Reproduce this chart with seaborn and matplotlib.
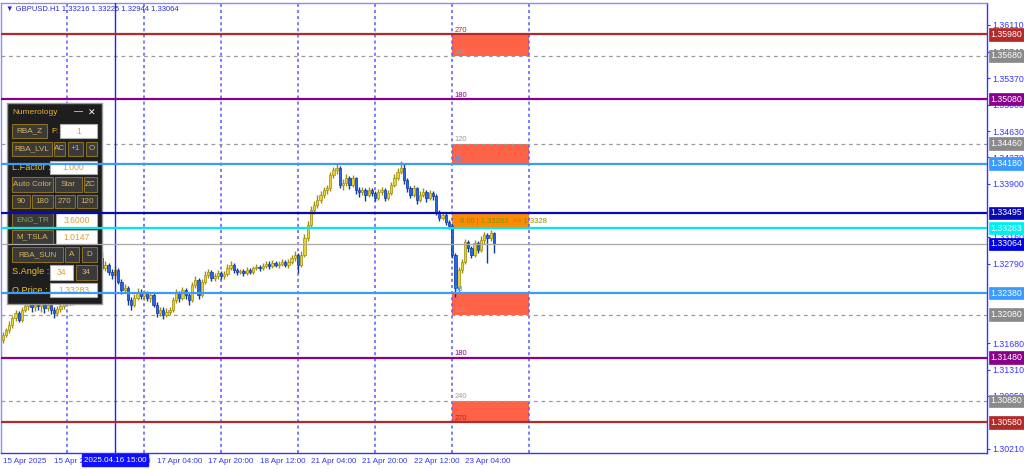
import matplotlib
matplotlib.use("Agg")
import matplotlib.pyplot as plt
import matplotlib.patches as mpatches
import matplotlib.transforms as mtransforms
import seaborn as sns
import pandas as pd

# GBPUSD H1 bars, 15 Apr 04:00 .. 23 Apr 13:00 (x = bar number)
first_open = 1.3173
closes = [
    1.3180, 1.3187, 1.3194, 1.3203, 1.3210, 1.3201, 1.3215, 1.3220, 1.3223, 1.3219,
    1.3222, 1.3220, 1.3223, 1.3217, 1.3222, 1.3215, 1.3210, 1.3216, 1.3220, 1.3224,
    1.3228, 1.3226, 1.3231, 1.3235, 1.3242, 1.3249, 1.3256, 1.3263, 1.3273, 1.3281,
    1.3287, 1.3273, 1.3277, 1.3267, 1.3263, 1.3270, 1.3254, 1.3242, 1.3245, 1.3228,
    1.3222, 1.3231, 1.3240, 1.3234, 1.3238, 1.3231, 1.3235, 1.3222, 1.3210, 1.3215,
    1.3208, 1.3212, 1.3215, 1.3228, 1.3238, 1.3231, 1.3242, 1.3235, 1.3228, 1.3249,
    1.3256, 1.3235, 1.3254, 1.3263, 1.3267, 1.3259, 1.3262, 1.3266, 1.3262, 1.3265,
    1.3273, 1.3277, 1.3270, 1.3267, 1.3269, 1.3266, 1.3270, 1.3267, 1.3273, 1.3274,
    1.3273, 1.3276, 1.3279, 1.3276, 1.3280, 1.3277, 1.3279, 1.3281, 1.3277, 1.3281,
    1.3287, 1.3291, 1.3277, 1.3291, 1.3315, 1.3333, 1.3354, 1.3361, 1.3368, 1.3375,
    1.3381, 1.3384, 1.3402, 1.3409, 1.3412, 1.3388, 1.3391, 1.3398, 1.3388, 1.3398,
    1.3381, 1.3379, 1.3381, 1.3375, 1.3381, 1.3377, 1.3370, 1.3379, 1.3381, 1.3370,
    1.3377, 1.3388, 1.3398, 1.3407, 1.3412, 1.3395, 1.3384, 1.3375, 1.3384, 1.3368,
    1.3375, 1.3379, 1.3370, 1.3377, 1.3373, 1.3351, 1.3342, 1.3347, 1.3337, 1.3331,
    1.3291, 1.3245, 1.3270, 1.3281, 1.3309, 1.3300, 1.3291, 1.3308, 1.3298, 1.3312,
    1.3319, 1.3315, 1.33216, 1.33064,
]
highs = [
    1.3184, 1.3190, 1.3199, 1.3206, 1.3214, 1.3213, 1.3219, 1.3226, 1.3228, 1.3227,
    1.3226, 1.3227, 1.3229, 1.3226, 1.3227, 1.3224, 1.3218, 1.3220, 1.3225, 1.3229,
    1.3233, 1.3232, 1.3236, 1.3240, 1.3246, 1.3253, 1.3260, 1.3268, 1.3278, 1.3286,
    1.3293, 1.3295, 1.3283, 1.3280, 1.3272, 1.3275, 1.3273, 1.3257, 1.3250, 1.3248,
    1.3233, 1.3236, 1.3245, 1.3244, 1.3242, 1.3241, 1.3239, 1.3238, 1.3225, 1.3219,
    1.3218, 1.3217, 1.3219, 1.3232, 1.3243, 1.3241, 1.3247, 1.3245, 1.3238, 1.3253,
    1.3262, 1.3259, 1.3258, 1.3268, 1.3272, 1.3270, 1.3266, 1.3270, 1.3269, 1.3269,
    1.3278, 1.3282, 1.3280, 1.3273, 1.3272, 1.3272, 1.3274, 1.3273, 1.3276, 1.3278,
    1.3277, 1.3280, 1.3283, 1.3282, 1.3284, 1.3283, 1.3282, 1.3285, 1.3284, 1.3285,
    1.3291, 1.3296, 1.3294, 1.3296, 1.3320, 1.3338, 1.3359, 1.3366, 1.3374, 1.3380,
    1.3386, 1.3389, 1.3407, 1.3414, 1.3419, 1.3415, 1.3396, 1.3403, 1.3401, 1.3402,
    1.3400, 1.3385, 1.3386, 1.3384, 1.3385, 1.3384, 1.3380, 1.3383, 1.3385, 1.3384,
    1.3382, 1.3392, 1.3403, 1.3412, 1.3422, 1.3417, 1.3398, 1.3387, 1.3389, 1.3386,
    1.3380, 1.3384, 1.3382, 1.3382, 1.3380, 1.3376, 1.3354, 1.3351, 1.3349, 1.3340,
    1.3334, 1.3294, 1.3274, 1.3286, 1.3313, 1.3312, 1.3304, 1.3312, 1.3311, 1.3317,
    1.3323, 1.3322, 1.3326, 1.33225,
]
lows = [
    1.3168, 1.3177, 1.3183, 1.3190, 1.3199, 1.3197, 1.3198, 1.3211, 1.3214, 1.3212,
    1.3213, 1.3215, 1.3211, 1.3210, 1.3213, 1.3209, 1.3203, 1.3206, 1.3212, 1.3216,
    1.3220, 1.3221, 1.3222, 1.3227, 1.3231, 1.3238, 1.3245, 1.3252, 1.3259, 1.3269,
    1.3277, 1.3270, 1.3268, 1.3263, 1.3258, 1.3259, 1.3250, 1.3237, 1.3238, 1.3222,
    1.3215, 1.3218, 1.3228, 1.3230, 1.3229, 1.3227, 1.3226, 1.3218, 1.3205, 1.3206,
    1.3202, 1.3204, 1.3207, 1.3211, 1.3224, 1.3226, 1.3228, 1.3230, 1.3222, 1.3225,
    1.3245, 1.3230, 1.3232, 1.3251, 1.3259, 1.3255, 1.3255, 1.3258, 1.3257, 1.3258,
    1.3262, 1.3270, 1.3266, 1.3263, 1.3264, 1.3262, 1.3263, 1.3264, 1.3265, 1.3270,
    1.3269, 1.3270, 1.3273, 1.3272, 1.3273, 1.3274, 1.3273, 1.3276, 1.3274, 1.3273,
    1.3278, 1.3283, 1.3266, 1.3274, 1.3288, 1.3311, 1.3329, 1.3348, 1.3356, 1.3363,
    1.3370, 1.3376, 1.3380, 1.3398, 1.3403, 1.3384, 1.3382, 1.3387, 1.3383, 1.3385,
    1.3376, 1.3372, 1.3375, 1.3366, 1.3372, 1.3373, 1.3366, 1.3368, 1.3375, 1.3366,
    1.3367, 1.3374, 1.3385, 1.3395, 1.3403, 1.3390, 1.3379, 1.3370, 1.3372, 1.3362,
    1.3365, 1.3371, 1.3364, 1.3367, 1.3368, 1.3347, 1.3338, 1.3339, 1.3333, 1.3327,
    1.3287, 1.3233, 1.3240, 1.3266, 1.3278, 1.3295, 1.3287, 1.3288, 1.3294, 1.3295,
    1.3306, 1.3280, 1.3311, 1.32944,
]

x_ticks = [0, 16, 32, 48, 64, 80, 96, 112, 128, 144]
x_labels = ["15 Apr 2025", "15 Apr 20:00", "16 Apr 12:00", "17 Apr 04:00", "17 Apr 20:00",
            "18 Apr 12:00", "21 Apr 04:00", "21 Apr 20:00", "22 Apr 12:00", "23 Apr 04:00"]
# price scale ticks (the ones fully hidden under the level tags are left out)
y_ticks = [1.36110, 1.35740, 1.35370, 1.35000, 1.34630, 1.34270, 1.33900, 1.33160,
           1.32790, 1.31680, 1.31310, 1.30950, 1.30210]
day_breaks = [20, 44, 68, 92, 116, 140, 164]
cursor_bar = 35
cursor_label = "2025.04.16 15:00"

levels = [1.35980, 1.35680, 1.35080, 1.34460, 1.34180, 1.33495, 1.33283,
          1.33064, 1.32380, 1.32080, 1.31480, 1.30880, 1.30580]
level_colors = ["#b22a2a", "#9a9a9a", "#8b008b", "#9a9a9a", "#3a9bff", "#0a0ab4", "#00e8f0",
                "#a8a8a8", "#3a9bff", "#9a9a9a", "#8b008b", "#9a9a9a", "#b22a2a"]
label_colors = ["#b22a2a", "#8a8a8a", "#8b008b", "#8a8a8a", "#3a9bff", "#0a0ab4", "#00f0f0",
                "#0000e6", "#3a9bff", "#8a8a8a", "#8b008b", "#8a8a8a", "#b22a2a"]
level_dashed = [False, True, False, True, False, False, False,
                False, False, True, False, True, False]

zones = [(1.35680, 1.35980), (1.34180, 1.34460), (1.32080, 1.32380), (1.30580, 1.30880)]
zone_start, zone_end = 140, 164
signal_zone = (1.33283, 1.33495)
signal_text = "8.00 | 1.33283  >> 1.3328"
angle_names = ["270", "240", "180", "120", "90", "90", "120", "180", "240", "270"]
angle_levels = [1.35980, 1.35680, 1.35080, 1.34460, 1.34180,
                1.32380, 1.32080, 1.31480, 1.30880, 1.30580]
angle_colors = ["#a52a2a", "#9a9a9a", "#8b008b", "#9a9a9a", "#3a9bff",
                "#3a9bff", "#9a9a9a", "#8b008b", "#9a9a9a", "#a52a2a"]

title = "\u25bc GBPUSD.H1 1.33216 1.33225 1.32944 1.33064"

df = pd.DataFrame({"close": closes, "high": highs, "low": lows})
df["open"] = df["close"].shift(1).fillna(first_open)
df["bar"] = range(len(df))

sns.set_style("white")
plt.rcParams["font.family"] = ["Liberation Sans", "DejaVu Sans"]

W, H = 1024, 469
fig = plt.figure(figsize=(W / 100, H / 100), dpi=100)
ax = fig.add_axes([1 / W, 16 / H, 986 / W, 450 / H])
axis_blue = "#3535ff"

# candles
up = df[df["close"] >= df["open"]]
dn = df[df["close"] < df["open"]]
for part, body, edge in [(up, "#e8d430", "#a08e10"), (dn, "#2a66e0", "#0c3a9e")]:
    ax.vlines(part["bar"], part["low"], part["high"], color=edge, lw=1.0, zorder=2)
    h = (part["close"] - part["open"]).abs().clip(lower=0.00003)
    ax.bar(part["bar"], h, bottom=part[["open", "close"]].min(axis=1), width=0.72,
           color=body, edgecolor=edge, linewidth=0.5, zorder=2.1)

# day separators and cursor
for b in day_breaks:
    ax.axvline(b, color="#5a5aff", lw=1.1, ls=(0, (2, 2)), zorder=1.1)
ax.axvline(cursor_bar, color="#2020ff", lw=1, zorder=4)

# zones
for lo, hi in zones:
    ax.add_patch(mpatches.Rectangle((zone_start, lo), zone_end - zone_start, hi - lo,
                                    fc="#ff6347", ec="none", zorder=1))
ax.add_patch(mpatches.Rectangle((zone_start, signal_zone[0]), zone_end - zone_start,
                                signal_zone[1] - signal_zone[0], fc="#ff8c00", ec="none", zorder=1))
ax.text(zone_start + 2.5, (signal_zone[0] + signal_zone[1]) / 2 - 0.0002, signal_text,
        fontsize=5.5, color="#8a8a00", va="center", ha="left", zorder=5)
for name, lvl, c in zip(angle_names, angle_levels, angle_colors):
    ax.text(zone_start + 0.8, lvl + 0.00005, name, fontsize=5.4, color=c,
            va="bottom", ha="left", zorder=5)

# horizontal levels with price tags
tag_tf = mtransforms.blended_transform_factory(fig.transFigure, ax.transData)
for lvl, c, lc, dashed in zip(levels, level_colors, label_colors, level_dashed):
    if dashed:
        ax.axhline(lvl, color=c, lw=0.9, ls=(0, (3, 3)), zorder=1.2)
    elif c == "#a8a8a8":
        ax.axhline(lvl, color=c, lw=0.9, zorder=4)
    else:
        ax.axhline(lvl, color=c, lw=1.6, zorder=4)
    ax.text(990.5 / W, lvl, f"{lvl:.5f}", transform=tag_tf, fontsize=6.3, color="white",
            va="center", ha="left", clip_on=False, zorder=6,
            bbox=dict(boxstyle="square,pad=0.2", fc=lc, ec=lc, lw=0.5))

ax.set_xlim(-0.53, 306.6)
ax.set_ylim(1.30154, 1.36416)
ax.yaxis.tick_right()
ax.set_yticks(y_ticks)
ax.set_yticklabels([f"{v:.5f}" for v in y_ticks])
ax.set_xticks(x_ticks)
ax.set_xticklabels(x_labels)
ax.tick_params(axis="y", direction="out", length=2.5, width=0.8, pad=1.5,
               colors=axis_blue, labelsize=6.3)
ax.tick_params(axis="x", direction="out", length=2.5, width=0.8, pad=0.8,
               colors=axis_blue, labelsize=5.8)
for lbl in ax.get_xticklabels():
    lbl.set_horizontalalignment("left")
for side in ["top", "left"]:
    ax.spines[side].set_color("#8a8aff")
for side in ["bottom", "right"]:
    ax.spines[side].set_color(axis_blue)
for sp in ax.spines.values():
    sp.set_linewidth(1)
ax.set_xlabel("")
ax.set_ylabel("")

ax.text(5 / 986, 1 - 6 / 450, title, transform=ax.transAxes, fontsize=5.5,
        color="#2a2ad0", va="center", ha="left", zorder=6)

fig.text(115 / W, 1 - 460 / H, cursor_label, fontsize=5.8, color="white",
         ha="center", va="center", zorder=10,
         bbox=dict(boxstyle="square,pad=0.25", fc="#1010ff", ec="#1010ff"))


# Numerology panel, drawn in figure pixels
def fbox(x0, y0, x1, y1, fc, ec, lw=0.8, z=3.2):
    ax.add_artist(mpatches.Rectangle((x0 / W, 1 - y1 / H), (x1 - x0) / W, (y1 - y0) / H,
                                     transform=fig.transFigure, fc=fc, ec=ec, lw=lw,
                                     zorder=z, clip_on=False))


def ftext(x, y, s, c, ha="left", size=6.2, z=3.4):
    ax.text(x / W, 1 - y / H, s, transform=fig.transFigure, fontsize=size, color=c,
            ha=ha, va="center", zorder=z, clip_on=False)


gold = "#d8b458"
yellow = "#f0c020"
fbox(7, 103, 102, 304, "#1e1e1e", "#9a9a9a", lw=1, z=3)
ftext(12, 113, "Numerology", "#e8b030", size=6)
ftext(78, 112, "\u2014", "white", ha="center", size=6.5)
ftext(92, 113, "\u2715", "white", ha="center", size=6.5)

buttons = [("RBA_Z", 12, 124, 47, 138, gold), ("RBA_LVL", 12, 142, 52, 156, gold),
           ("AC", 54, 142, 65, 156, gold), ("+1", 68, 142, 83, 156, gold),
           ("O", 86, 142, 97, 156, gold), ("Auto Color", 12, 177, 53, 192, gold),
           ("Star", 55, 177, 82, 192, gold), ("ZC", 84, 177, 97, 192, gold),
           ("90", 12, 195, 30, 208, gold), ("180", 32, 195, 53, 208, gold),
           ("270", 55, 195, 75, 208, gold), ("120", 77, 195, 97, 208, gold),
           ("ENG_TR", 12, 213, 53, 227, "#7ab03a"), ("M_TSLA", 12, 230, 53, 244, gold),
           ("RBA_SUN", 12, 247, 63, 262, gold), ("A", 65, 247, 79, 262, gold),
           ("D", 82, 247, 97, 262, gold), ("34", 76, 265, 97, 280, gold)]
for s, x0, y0, x1, y1, tc in buttons:
    fbox(x0, y0, x1, y1, "#3a3a3a", "#8a6e22")
    ftext((x0 + x1) / 2, (y0 + y1) / 2, s, tc, ha="center", size=5.9)

fields = [("1", 60, 124, 97, 138), ("1.000", 50, 161, 97, 174), ("3.6000", 56, 213, 97, 227),
          ("1.0147", 56, 230, 97, 244), ("34", 50, 265, 73, 280), ("1.33283", 50, 283, 97, 297)]
for s, x0, y0, x1, y1 in fields:
    fbox(x0, y0, x1, y1, "white", "#b0b0b0")
    ftext((x0 + x1) / 2, (y0 + y1) / 2, s, "#e0a030", ha="center", size=6.2)

ftext(51.5, 131, "F:", yellow, size=6.0)
ftext(12, 168, "L.Factor :", yellow, size=6.6)
ftext(12, 272, "S.Angle :", yellow, size=6.6)
ftext(12, 290, "O.Price :", yellow, size=6.6)

fig.savefig("out.png", dpi=100, facecolor="white")
